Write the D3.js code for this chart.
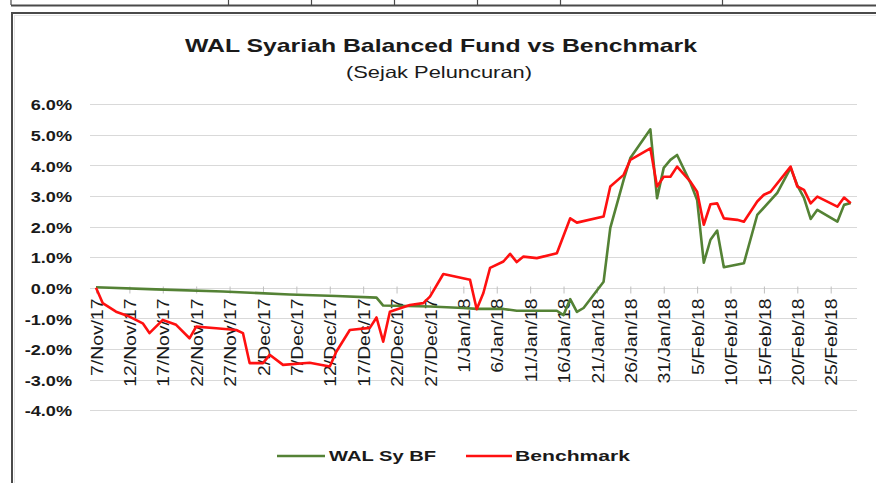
<!DOCTYPE html>
<html>
<head>
<meta charset="utf-8">
<script src="https://cdn.jsdelivr.net/npm/d3@7"></script>
<style>
  html, body { margin: 0; padding: 0; background: #ffffff; }
  svg { display: block; }
  text { font-family: "Liberation Sans", Arial, sans-serif; }
</style>
</head>
<body>
<svg id="chart" width="876" height="483"></svg>
<script>
// ---- data ----
const seriesNames = ["WAL Sy BF", "Benchmark"];
const titleText = "WAL Syariah Balanced Fund vs Benchmark";
const subtitleText = "(Sejak Peluncuran)";
const yTicks = [6, 5, 4, 3, 2, 1, 0, -1, -2, -3, -4];
const xTickStart = "2017-11-07";
const xTickEnd = "2018-02-25";

const walDates = ["2017-11-07","2017-11-16","2017-11-26","2017-12-06","2017-12-13","2017-12-19","2017-12-20","2017-12-27","2018-01-01","2018-01-03","2018-01-07","2018-01-09","2018-01-15","2018-01-16","2018-01-17","2018-01-18","2018-01-19","2018-01-22","2018-01-23","2018-01-25","2018-01-26","2018-01-29","2018-01-30","2018-01-31","2018-02-01","2018-02-02","2018-02-04","2018-02-05","2018-02-06","2018-02-07","2018-02-08","2018-02-09","2018-02-12","2018-02-14","2018-02-17","2018-02-19","2018-02-20","2018-02-21","2018-02-22","2018-02-23","2018-02-26","2018-02-27","2018-02-28"];
const walValues = [0.02,-0.05,-0.12,-0.22,-0.27,-0.32,-0.58,-0.61,-0.66,-0.69,-0.69,-0.75,-0.75,-0.89,-0.37,-0.79,-0.66,0.20,1.96,3.53,4.24,5.18,2.93,3.92,4.18,4.34,3.43,2.87,0.82,1.57,1.87,0.67,0.80,2.38,3.10,3.92,3.35,2.94,2.25,2.55,2.16,2.71,2.77];

const bmDates = ["2017-11-07","2017-11-08","2017-11-10","2017-11-12","2017-11-14","2017-11-15","2017-11-17","2017-11-19","2017-11-21","2017-11-22","2017-11-25","2017-11-28","2017-11-29","2017-11-30","2017-12-02","2017-12-03","2017-12-05","2017-12-09","2017-12-12","2017-12-13","2017-12-15","2017-12-18","2017-12-19","2017-12-20","2017-12-21","2017-12-24","2017-12-26","2017-12-27","2017-12-29","2018-01-02","2018-01-03","2018-01-04","2018-01-05","2018-01-07","2018-01-08","2018-01-09","2018-01-10","2018-01-12","2018-01-15","2018-01-17","2018-01-18","2018-01-22","2018-01-23","2018-01-25","2018-01-26","2018-01-29","2018-01-30","2018-01-31","2018-02-01","2018-02-02","2018-02-04","2018-02-05","2018-02-06","2018-02-07","2018-02-08","2018-02-09","2018-02-11","2018-02-12","2018-02-14","2018-02-15","2018-02-16","2018-02-19","2018-02-20","2018-02-21","2018-02-22","2018-02-23","2018-02-26","2018-02-27","2018-02-28"];
const bmValues = [0.00,-0.50,-0.78,-0.94,-1.16,-1.48,-1.05,-1.21,-1.65,-1.27,-1.32,-1.38,-1.48,-2.46,-2.46,-2.19,-2.52,-2.45,-2.57,-2.08,-1.38,-1.31,-0.97,-1.76,-0.78,-0.56,-0.50,-0.29,0.45,0.26,-0.70,-0.17,0.65,0.86,1.11,0.84,1.02,0.97,1.13,2.27,2.13,2.33,3.31,3.69,4.18,4.56,3.31,3.63,3.63,3.96,3.47,3.14,2.06,2.73,2.76,2.27,2.22,2.16,2.82,3.04,3.14,3.96,3.31,3.20,2.76,2.98,2.65,2.95,2.76];

// ---- drawing ----
const parse = d3.timeParse("%Y-%m-%d");
const svg = d3.select("#chart");

const plotLeft = 90, plotRight = 857;
const x = d3.scaleTime()
  .domain([parse(xTickStart), parse(xTickEnd)])
  .range([96, 830.7]);
const y = d3.scaleLinear().domain([-4, 6]).range([410.2, 104.2]);

// surrounding page fragments (table row + chart frame)
const page = svg.append("g");
page.append("line").attr("x1", 11).attr("x2", 876).attr("y1", 5.5).attr("y2", 5.5)
  .attr("stroke", "#4a4a4a").attr("stroke-width", 2);
[11, 228.5, 311.5, 394.5, 477.5, 560.5, 722.5].forEach(v => {
  page.append("line").attr("x1", v).attr("x2", v).attr("y1", 0).attr("y2", 5)
    .attr("stroke", "#4a4a4a").attr("stroke-width", 1.2);
});
page.append("rect").attr("x", 12).attr("y", 13).attr("width", 900).attr("height", 500)
  .attr("fill", "none").attr("stroke", "#4a4a4a").attr("stroke-width", 2);
page.append("rect").attr("x", 14.5).attr("y", 15.5).attr("width", 900).attr("height", 500)
  .attr("fill", "none").attr("stroke", "#e4e4e4").attr("stroke-width", 1);

// title
svg.append("text").attr("x", 441).attr("y", 52)
  .attr("text-anchor", "middle").attr("font-weight", "bold").attr("font-size", 18.5)
  .attr("fill", "#1a1a1a")
  .attr("textLength", 512).attr("lengthAdjust", "spacingAndGlyphs")
  .text(titleText);
svg.append("text").attr("x", 439).attr("y", 78)
  .attr("text-anchor", "middle").attr("font-size", 16.5).attr("fill", "#1a1a1a")
  .attr("textLength", 186).attr("lengthAdjust", "spacingAndGlyphs")
  .text(subtitleText);

// gridlines
svg.append("g").selectAll("line").data(yTicks).join("line")
  .attr("x1", plotLeft).attr("x2", plotRight)
  .attr("y1", d => Math.round(y(d)) + 0.5).attr("y2", d => Math.round(y(d)) + 0.5)
  .attr("stroke", "#d9d9d9").attr("stroke-width", 1);

// y labels (horizontally widened like the source image)
svg.append("g").selectAll("text").data(yTicks).join("text")
  .attr("transform", d => `translate(72,${y(d) + 1}) scale(1.25,1)`)
  .attr("dy", "0.36em")
  .attr("text-anchor", "end").attr("font-weight", "bold").attr("font-size", 14.5)
  .attr("fill", "#1a1a1a")
  .text(d => d.toFixed(1) + "%");

// x axis (at 0%)
const tickDates = d3.timeDay.range(parse(xTickStart), d3.timeDay.offset(parse(xTickEnd), 1), 5);
const fmt = d3.timeFormat("%-d/%b/%y");
const xAxis = d3.axisBottom(x).tickValues(tickDates).tickFormat(fmt).tickSize(5).tickSizeOuter(0);
const ax = svg.append("g").attr("transform", `translate(0,${Math.round(y(0)) + 0.5})`).call(xAxis);
ax.select(".domain").remove();
ax.selectAll(".tick line").attr("stroke", "#bfbfbf").attr("y1", -2);
ax.selectAll(".tick text")
  .attr("transform", "rotate(-90) scale(1.14,1)")
  .attr("x", -10 / 1.14).attr("y", 0).attr("dy", "0.36em")
  .attr("text-anchor", "end")
  .attr("font-family", "Liberation Sans, Arial, sans-serif")
  .attr("font-size", 17).attr("fill", "#1a1a1a");

// lines
const line = d3.line().x(d => x(d[0])).y(d => y(d[1]));
const walData = walDates.map((d, i) => [parse(d), walValues[i]]);
const bmData = bmDates.map((d, i) => [parse(d), bmValues[i]]);
const colors = ["#548235", "#ff1010"];

svg.append("path").datum(walData).attr("d", line)
  .attr("fill", "none").attr("stroke", colors[0]).attr("stroke-width", 2.6)
  .attr("stroke-linejoin", "round");
svg.append("path").datum(bmData).attr("d", line)
  .attr("fill", "none").attr("stroke", colors[1]).attr("stroke-width", 2.6)
  .attr("stroke-linejoin", "round");

// legend
const legend = svg.append("g");
const legendItems = [
  { x1: 277, x2: 325, tx: 329, tw: 107 },
  { x1: 466, x2: 512, tx: 515, tw: 115 }
];
legendItems.forEach((it, i) => {
  legend.append("line").attr("x1", it.x1).attr("x2", it.x2).attr("y1", 456).attr("y2", 456)
    .attr("stroke", colors[i]).attr("stroke-width", 2.6);
  legend.append("text").attr("x", it.tx).attr("y", 456).attr("dy", "0.36em")
    .attr("font-weight", "bold").attr("font-size", 15).attr("fill", "#1a1a1a")
    .attr("textLength", it.tw).attr("lengthAdjust", "spacingAndGlyphs")
    .text(seriesNames[i]);
});
</script>
</body>
</html>
